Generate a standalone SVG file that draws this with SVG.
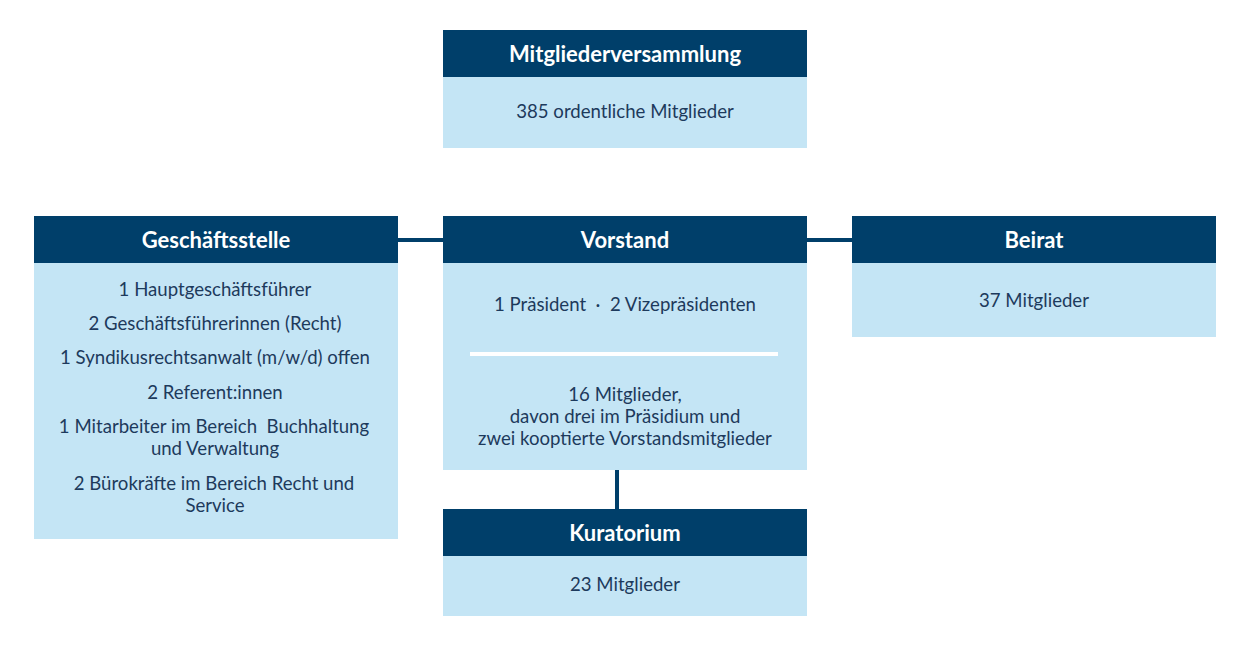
<svg xmlns="http://www.w3.org/2000/svg" width="1244" height="646" viewBox="0 0 1244 646">
<style>
.hd{fill:#003f6a}
.bd{fill:#c4e5f5}
.ht{font-family:Lato,"Liberation Sans",sans-serif;font-weight:bold;font-size:22px;fill:#ffffff;text-anchor:middle}
.bt{font-family:Lato,"Liberation Sans",sans-serif;font-size:18.6px;fill:#1d3a5c;text-anchor:middle}
.cn{stroke:#003f6a;stroke-width:4;fill:none}
</style>
<rect width="1244" height="646" fill="#ffffff"/>
<g id="connectors">
<line class="cn" x1="398" y1="240" x2="443" y2="240"/>
<line class="cn" x1="807" y1="240" x2="852" y2="240"/>
<line class="cn" x1="617" y1="470" x2="617" y2="509"/>
</g>
<g id="mitgliederversammlung">
<rect class="bd" x="443" y="30" width="364" height="118"/>
<rect class="hd" x="443" y="30" width="364" height="47"/>
<text class="ht" x="625" y="62">Mitgliederversammlung</text>
<text class="bt" x="625" y="118">385 ordentliche Mitglieder</text>
</g>
<g id="geschaeftsstelle">
<rect class="bd" x="34" y="216" width="364" height="323"/>
<rect class="hd" x="34" y="216" width="364" height="47"/>
<text class="ht" x="216" y="248">Geschäftsstelle</text>
<text class="bt" x="215" y="296">1 Hauptgeschäftsführer</text>
<text class="bt" x="215" y="330">2 Geschäftsführerinnen (Recht)</text>
<text class="bt" x="215" y="364">1 Syndikusrechtsanwalt (m/w/d) offen</text>
<text class="bt" x="215" y="399">2 Referent:innen</text>
<text class="bt" x="214" y="433" xml:space="preserve">1 Mitarbeiter im Bereich  Buchhaltung</text>
<text class="bt" x="215" y="455">und Verwaltung</text>
<text class="bt" x="214" y="490">2 Bürokräfte im Bereich Recht und</text>
<text class="bt" x="215" y="512">Service</text>
</g>
<g id="vorstand">
<rect class="bd" x="443" y="216" width="364" height="254"/>
<rect class="hd" x="443" y="216" width="364" height="47"/>
<text class="ht" x="625" y="248">Vorstand</text>
<text class="bt" x="625" y="311" xml:space="preserve">1 Präsident  ·  2 Vizepräsidenten</text>
<rect x="470" y="352" width="308" height="4" fill="#ffffff"/>
<text class="bt" x="625" y="401">16 Mitglieder,</text>
<text class="bt" x="625" y="423">davon drei im Präsidium und</text>
<text class="bt" x="625" y="445">zwei kooptierte Vorstandsmitglieder</text>
</g>
<g id="beirat">
<rect class="bd" x="852" y="216" width="364" height="121"/>
<rect class="hd" x="852" y="216" width="364" height="47"/>
<text class="ht" x="1034" y="248">Beirat</text>
<text class="bt" x="1034" y="307">37 Mitglieder</text>
</g>
<g id="kuratorium">
<rect class="bd" x="443" y="509" width="364" height="107"/>
<rect class="hd" x="443" y="509" width="364" height="47"/>
<text class="ht" x="625" y="541">Kuratorium</text>
<text class="bt" x="625" y="591">23 Mitglieder</text>
</g>
</svg>
